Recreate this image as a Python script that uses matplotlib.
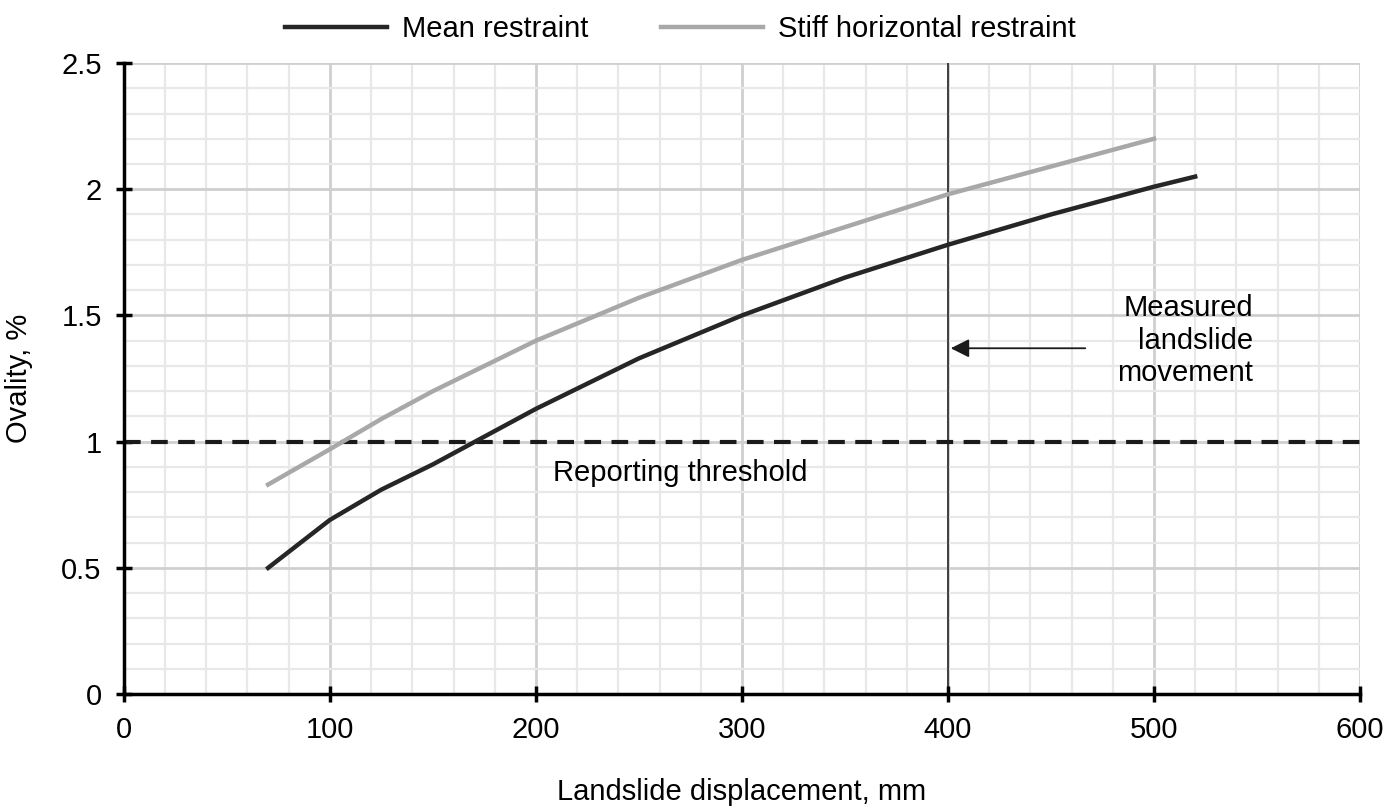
import matplotlib.pyplot as plt
import numpy as np

plt.rcParams['font.family'] = 'Liberation Sans'

x_mean = [70, 100, 125, 150, 175, 200, 250, 300, 350, 400, 450, 500, 520]
y_mean = [0.5, 0.69, 0.81, 0.91, 1.02, 1.13, 1.33, 1.5, 1.65, 1.78, 1.9, 2.01, 2.05]
x_stiff = [70, 100, 125, 150, 200, 250, 300, 350, 400, 450, 500]
y_stiff = [0.83, 0.97, 1.09, 1.2, 1.4, 1.57, 1.72, 1.85, 1.98, 2.09, 2.2]
threshold = 1.0
measured = 400

fig = plt.figure(figsize=(13.92, 8.08), dpi=100)
ax = fig.add_axes([0.089, 0.141, 0.888, 0.781])

# grid
for gx in np.arange(20, 601, 20):
    major = gx % 100 == 0
    ax.axvline(gx, color='#cfcfcf' if major else '#e8e8e8', lw=2 if major else 1.6, zorder=0)
for gy in np.arange(0.1, 2.51, 0.1):
    major = abs(gy * 2 - round(gy * 2)) < 1e-6
    ax.axhline(gy, color='#cfcfcf' if major else '#e8e8e8', lw=2 if major else 1.6, zorder=0)

ax.axvline(measured, color='#333333', lw=1.3, zorder=1)
ax.axhline(threshold, color='#1a1a1a', lw=3, ls=(0, (4, 2.5)), zorder=2)

ax.plot(x_mean, y_mean, color='#262626', lw=3.2, label='Mean restraint', zorder=3)
ax.plot(x_stiff, y_stiff, color='#a8a8a8', lw=3.2, label='Stiff horizontal restraint', zorder=3)

ax.text(270, 0.875, 'Reporting threshold', fontsize=21, ha='center', va='center')
ax.text(548, 1.4, 'Measured\nlandslide\nmovement', fontsize=21, ha='right', va='center',
        multialignment='right', linespacing=1.2)
ax.annotate('', xy=(400, 1.37), xytext=(468, 1.37),
            arrowprops=dict(arrowstyle='-|>', color='#1a1a1a', lw=1.3, mutation_scale=28))

ax.set_xlim(0, 600)
ax.set_ylim(0, 2.5)
ax.set_xticks(range(0, 601, 100))
ax.set_yticks([0, 0.5, 1, 1.5, 2, 2.5])
ax.set_yticklabels(['0', '0.5', '1', '1.5', '2', '2.5'])
ax.tick_params(direction='inout', length=12, width=2.5, labelsize=21, pad=10)
for s in ['top', 'right']:
    ax.spines[s].set_visible(False)
for s in ['left', 'bottom']:
    ax.spines[s].set_linewidth(2.5)
ax.set_xlabel('Landslide displacement, mm', fontsize=21, labelpad=24)
ax.set_ylabel('Ovality, %', fontsize=21, labelpad=20)
ax.legend(loc='lower center', bbox_to_anchor=(0.45, 0.99), ncol=2, frameon=False,
          fontsize=21, handlelength=3.5, columnspacing=2.5, handletextpad=0.5)

fig.savefig('out.png', dpi=100)
